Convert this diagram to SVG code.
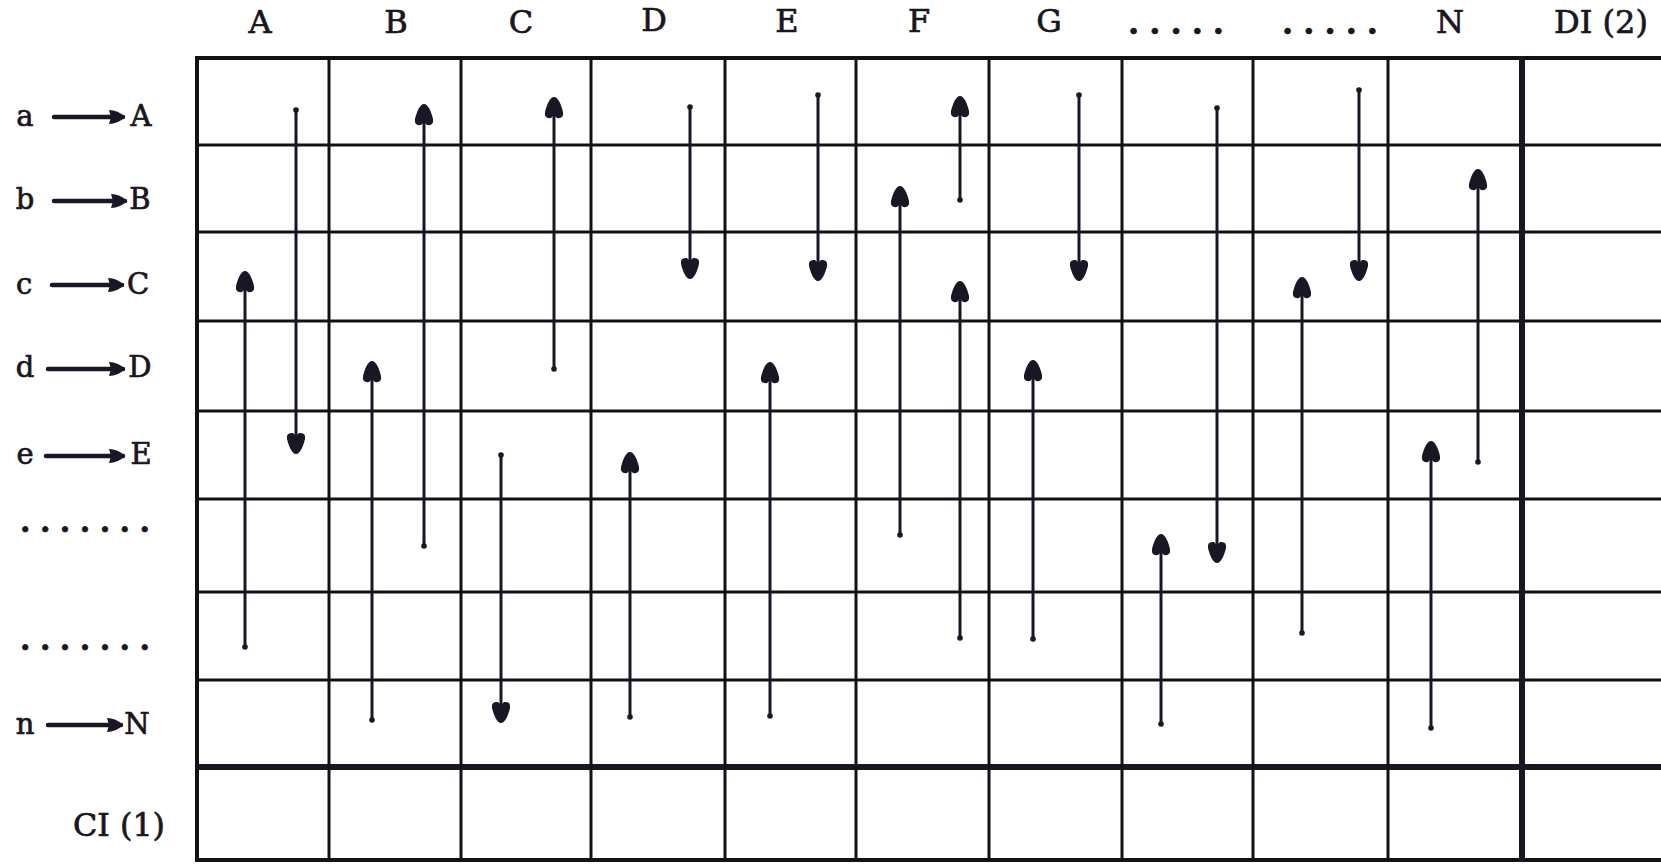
<svg xmlns="http://www.w3.org/2000/svg" width="1661" height="864" viewBox="0 0 1661 864">
<style>
.g{stroke:#141116;stroke-width:3;fill:none}
.gb{stroke:#141116;stroke-width:4;fill:none}
.gt{stroke:#1a1624;stroke-width:6;fill:none}
.t{font-family:"DejaVu Serif","Liberation Serif",serif;fill:#1a1620;stroke:#1a1620;stroke-width:0.7px}
.h{font-size:32px;text-anchor:middle}
.r{font-size:29px;text-anchor:middle}
.c{stroke:#1b1626;stroke-width:3;fill:none;marker-start:url(#dot);marker-end:url(#ah)}
.la{stroke:#1b1626;stroke-width:4.5;fill:none;stroke-linecap:round;marker-end:url(#lh)}
</style>
<defs>
<marker id="ah" markerUnits="userSpaceOnUse" markerWidth="40" markerHeight="40" refX="0" refY="0" orient="auto" overflow="visible" style="overflow:visible">
<path d="M1,0 C1,-4 -6,-7 -14,-9 Q-21,-10 -20,-3 L-17,0 L-20,3 Q-21,10 -14,9 C-6,7 1,4 1,0 Z" fill="#1b1626"/>
</marker>
<marker id="dot" markerUnits="userSpaceOnUse" markerWidth="10" markerHeight="10" refX="0" refY="0" orient="auto" overflow="visible" style="overflow:visible">
<circle cx="0" cy="0" r="2.8" fill="#1b1626"/>
</marker>
<marker id="lh" markerUnits="userSpaceOnUse" markerWidth="30" markerHeight="30" refX="0" refY="0" orient="auto" overflow="visible" style="overflow:visible">
<path d="M2,0 Q-5,-7 -14,-7 L-12,0 L-14,7 Q-5,7 2,0 Z" fill="#1b1626"/>
</marker>
</defs>
<rect x="0" y="0" width="1661" height="864" fill="#ffffff"/>
<g id="grid">
<line class="gb" x1="195" y1="58" x2="1661" y2="58"/>
<line class="g" x1="197" y1="145" x2="1661" y2="145"/>
<line class="g" x1="197" y1="232" x2="1661" y2="232"/>
<line class="g" x1="197" y1="321" x2="1661" y2="321"/>
<line class="g" x1="197" y1="411" x2="1661" y2="411"/>
<line class="g" x1="197" y1="499" x2="1661" y2="499"/>
<line class="g" x1="197" y1="592" x2="1661" y2="592"/>
<line class="g" x1="197" y1="680" x2="1661" y2="680"/>
<line class="gt" x1="195" y1="767" x2="1661" y2="767"/>
<line class="gb" x1="195" y1="860" x2="1661" y2="860"/>
<line class="gb" x1="197" y1="56" x2="197" y2="862"/>
<line class="g" x1="329" y1="56" x2="329" y2="862"/>
<line class="g" x1="461" y1="56" x2="461" y2="862"/>
<line class="g" x1="591" y1="56" x2="591" y2="862"/>
<line class="g" x1="725" y1="56" x2="725" y2="862"/>
<line class="g" x1="856" y1="56" x2="856" y2="862"/>
<line class="g" x1="989" y1="56" x2="989" y2="862"/>
<line class="g" x1="1122" y1="56" x2="1122" y2="862"/>
<line class="g" x1="1253" y1="56" x2="1253" y2="862"/>
<line class="g" x1="1388" y1="56" x2="1388" y2="862"/>
<line class="gt" x1="1522" y1="56" x2="1522" y2="862"/>
</g>
<g id="headers">
<text class="t h" x="260" y="33">A</text>
<text class="t h" x="396" y="33">B</text>
<text class="t h" x="521" y="33">C</text>
<text class="t h" x="654" y="31">D</text>
<text class="t h" x="787" y="32">E</text>
<text class="t h" x="919" y="32">F</text>
<text class="t h" x="1049" y="32">G</text>
<text class="t" x="1128" y="34" font-size="32" font-weight="bold" textLength="96" lengthAdjust="spacing">.....</text>
<text class="t" x="1282" y="34" font-size="32" font-weight="bold" textLength="96" lengthAdjust="spacing">.....</text>
<text class="t h" x="1450" y="33">N</text>
<text class="t" x="1554" y="33" font-size="32" textLength="94" lengthAdjust="spacingAndGlyphs">DI (2)</text>
</g>
<g id="row-labels">
<g id="row-a"><text class="t r" x="25" y="126">a</text><line class="la" x1="54" y1="117" x2="123" y2="117"/><text class="t r" x="141" y="126">A</text></g>
<g id="row-b"><text class="t r" x="25" y="209">b</text><line class="la" x1="54" y1="201" x2="125" y2="201"/><text class="t r" x="140" y="209">B</text></g>
<g id="row-c"><text class="t r" x="24" y="294">c</text><line class="la" x1="52" y1="285" x2="122" y2="285"/><text class="t r" x="138" y="294">C</text></g>
<g id="row-d"><text class="t r" x="25" y="377">d</text><line class="la" x1="48" y1="369" x2="123" y2="369"/><text class="t r" x="140" y="377">D</text></g>
<g id="row-e"><text class="t r" x="25" y="464">e</text><line class="la" x1="46" y1="456" x2="123" y2="456" stroke-width="6.5"/><text class="t r" x="141" y="464">E</text></g>
<g id="row-dots1"><text class="t" x="20" y="532" font-size="30" font-weight="bold" textLength="130" lengthAdjust="spacing">.......</text></g>
<g id="row-dots2"><text class="t" x="20" y="650" font-size="30" font-weight="bold" textLength="130" lengthAdjust="spacing">.......</text></g>
<g id="row-n"><text class="t r" x="25" y="734">n</text><line class="la" x1="48" y1="725" x2="121" y2="725"/><text class="t r" x="137" y="734">N</text></g>
<g id="row-ci"><text class="t" x="73" y="836" font-size="31" textLength="92" lengthAdjust="spacingAndGlyphs">CI (1)</text></g>
</g>
<g id="connectors">
<line class="c" x1="296" y1="110" x2="296" y2="453"/>
<line class="c" x1="245" y1="647" x2="245" y2="272"/>
<line class="c" x1="424" y1="546" x2="424" y2="105"/>
<line class="c" x1="372" y1="720" x2="372" y2="362"/>
<line class="c" x1="554" y1="369" x2="554" y2="98"/>
<line class="c" x1="501" y1="455" x2="501" y2="722"/>
<line class="c" x1="690" y1="107" x2="690" y2="278"/>
<line class="c" x1="630" y1="717" x2="630" y2="453"/>
<line class="c" x1="818" y1="95" x2="818" y2="280"/>
<line class="c" x1="770" y1="716" x2="770" y2="363"/>
<line class="c" x1="960" y1="200" x2="960" y2="97"/>
<line class="c" x1="900" y1="535" x2="900" y2="187"/>
<line class="c" x1="960" y1="638" x2="960" y2="282"/>
<line class="c" x1="1079" y1="95" x2="1079" y2="280"/>
<line class="c" x1="1033" y1="639" x2="1033" y2="361"/>
<line class="c" x1="1217" y1="108" x2="1217" y2="562"/>
<line class="c" x1="1161" y1="724" x2="1161" y2="535"/>
<line class="c" x1="1359" y1="90" x2="1359" y2="280"/>
<line class="c" x1="1302" y1="633" x2="1302" y2="278"/>
<line class="c" x1="1478" y1="462" x2="1478" y2="170"/>
<line class="c" x1="1431" y1="728" x2="1431" y2="442"/>
</g>
</svg>
